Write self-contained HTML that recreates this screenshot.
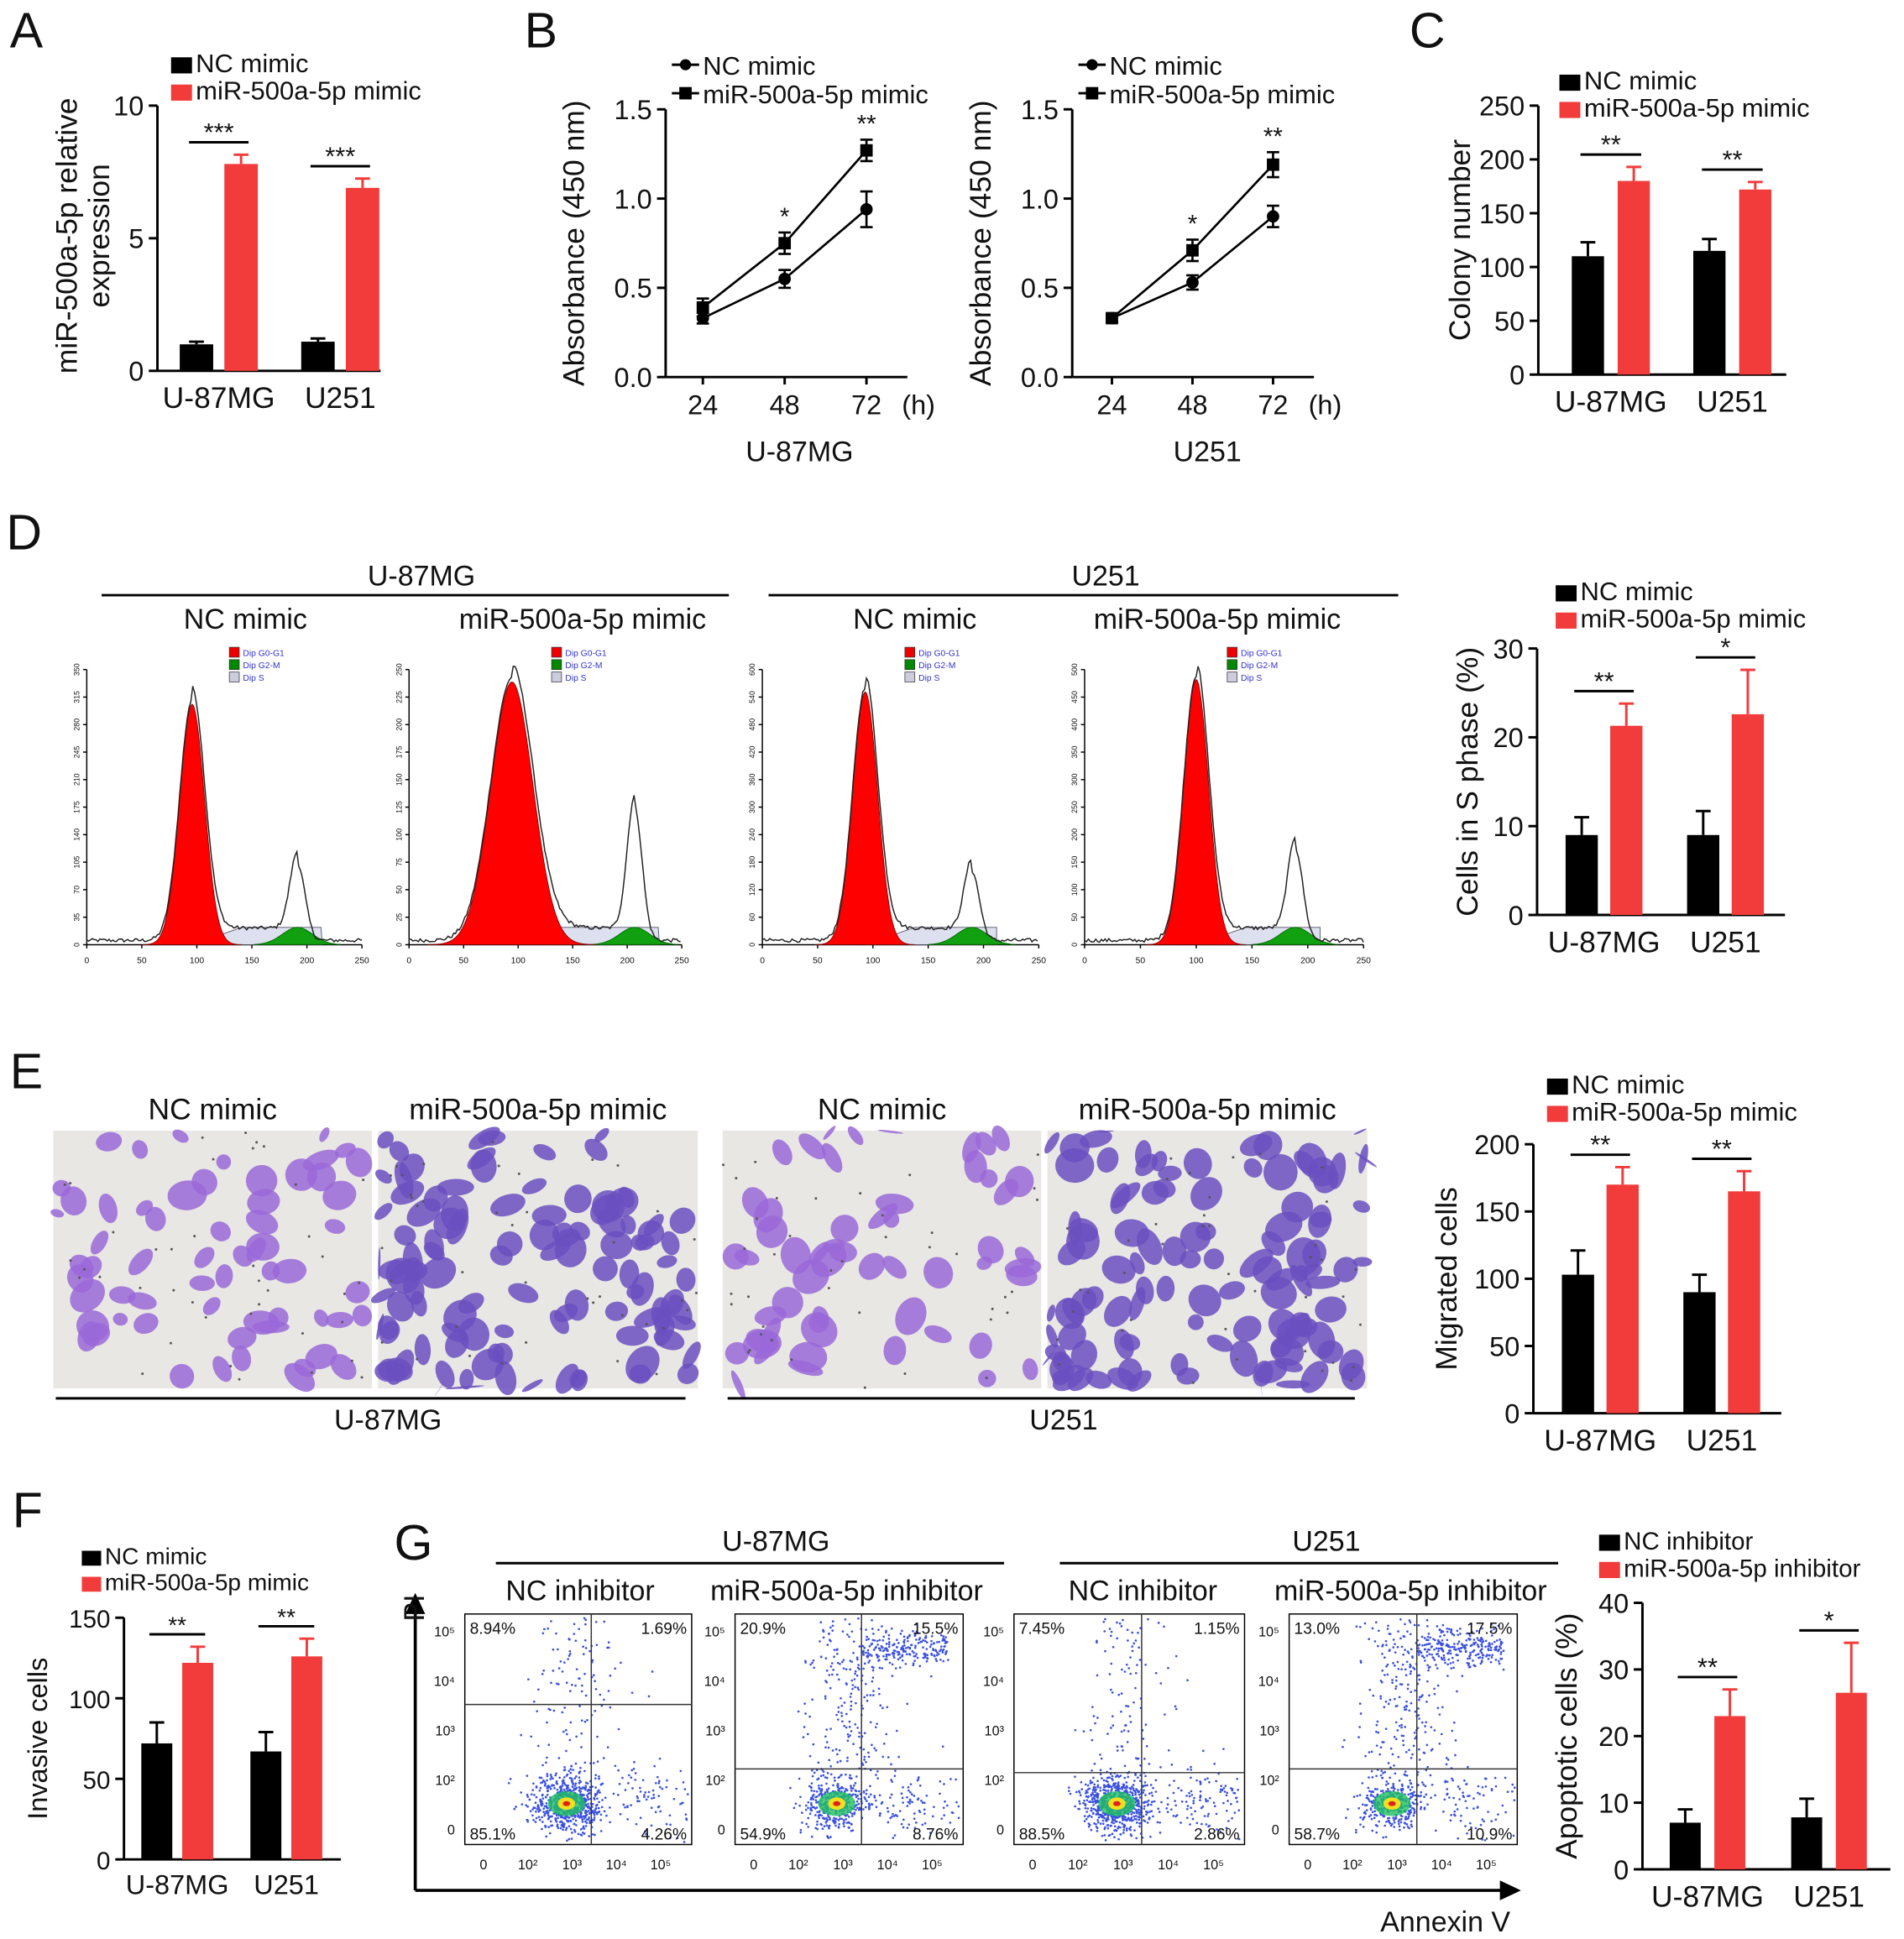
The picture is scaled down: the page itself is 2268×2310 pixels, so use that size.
<!DOCTYPE html>
<html><head><meta charset="utf-8">
<style>
html,body{margin:0;padding:0;background:#fff;}
svg{display:block;font-family:"Liberation Sans",Arial,sans-serif;}
</style></head>
<body>
<svg id="fig" width="2268" height="2310" viewBox="0 0 1536 1564" xmlns="http://www.w3.org/2000/svg"></svg>
<script>
// ---------- Data ----------
// Panel A
const aCats=["U-87MG","U251"];
const aNC=[1.0,1.1]; const aNCerr=[0.1,0.12];
const aMi=[7.8,6.9]; const aMiErr=[0.35,0.35];
const aSig=["***","***"]; const aTicks=[0,5,10];
// Panel B
const bHours=[24,48,72];
const bU87NC=[0.33,0.55,0.94]; const bU87NCerr=[0.03,0.05,0.1];
const bU87Mi=[0.39,0.75,1.27]; const bU87MiErr=[0.05,0.06,0.06];
const bU251NC=[0.33,0.53,0.90]; const bU251NCerr=[0.02,0.04,0.06];
const bU251Mi=[0.33,0.71,1.19]; const bU251MiErr=[0.02,0.06,0.07];
const bSig=["","*","**"]; const bTicks=[0,0.5,1.0,1.5];
// Panel C
const cCats=["U-87MG","U251"];
const cNC=[110,115]; const cNCerr=[13,11];
const cMi=[180,172]; const cMiErr=[13,7];
const cSig=["**","**"]; const cTicks=[0,50,100,150,200,250];
// Panel D bars
const dCats=["U-87MG","U251"];
const dNC=[9,9]; const dNCerr=[2,2.7];
const dMi=[21.3,22.6]; const dMiErr=[2.5,5];
const dSig=["**","*"]; const dTicks=[0,10,20,30];
// Panel E bars
const eCats=["U-87MG","U251"];
const eNC=[103,90]; const eNCerr=[18,13];
const eMi=[170,165]; const eMiErr=[13,15];
const eSig=["**","**"]; const eTicks=[0,50,100,150,200];
// Panel F
const fCats=["U-87MG","U251"];
const fNC=[72,67]; const fNCerr=[13,12];
const fMi=[122,126]; const fMiErr=[10,11];
const fSig=["**","**"]; const fTicks=[0,50,100,150];
// Panel G bars
const gCats=["U-87MG","U251"];
const gNC=[7,7.8]; const gNCerr=[2,2.8];
const gMi=[23,26.5]; const gMiErr=[4,7.5];
const gSig=["**","*"]; const gTicks=[0,10,20,30,40];
// Panel G quadrant labels
const gQuad=[["8.94%","1.69%","85.1%","4.26%"],["20.9%","15.5%","54.9%","8.76%"],["7.45%","1.15%","88.5%","2.86%"],["13.0%","17.5%","58.7%","10.9%"]];

const NS="http://www.w3.org/2000/svg";
const svg=document.getElementById('fig');
function el(tag,attrs,parent,text){const e=document.createElementNS(NS,tag);for(const k in attrs)e.setAttribute(k,attrs[k]);if(text!==undefined)e.textContent=text;(parent||svg).appendChild(e);return e;}
function txt(x,y,s,size,anchor,parent,extra){const t=el('text',Object.assign({x:x,y:y,'font-size':size,'text-anchor':anchor||'start',fill:'#111'},extra||{}),parent,s);return t;}
const RED="#f23b3b";

// seeded random for textures
let seed=12345;function rnd(){seed=(seed*1103515245+12345)%2147483648;return seed/2147483648;}
function gauss(){return Math.sqrt(-2*Math.log(rnd()+1e-9))*Math.cos(2*Math.PI*rnd());}

// panel letters
[["A",8,38],["B",423,38],["C",1137,38],["D",5,443],["E",8,878],["F",10,1232],["G",318,1258]].forEach(p=>{
 const t=txt(p[1],p[2],p[0],40,'start');
 
 
});

function legend(x,y,labels,size,gapY,sq){
 const g=el('g',{});
 
 
 labels.forEach((l,i)=>{
  const r=el('rect',{x:x,y:y+i*gapY-sq+3,width:sq*1.3,height:sq,fill:i?RED:'#000'},g);
  
  
  const t=txt(x+sq*1.3+3,y+i*gapY+2,l,size,'start',g);
  
  
 });
}

function barChart(o){
 const g=el('g',{});
 
 
 const y=v=>o.y0-v/o.max*(o.y0-o.y1);
 el('line',{x1:o.ax,y1:o.y0,x2:o.ax,y2:o.y1,stroke:'#000','stroke-width':2},g);
 el('line',{x1:o.ax,y1:o.y0,x2:o.ax+o.w,y2:o.y0,stroke:'#000','stroke-width':2},g);
 o.ticks.forEach(t=>{
  el('line',{x1:o.ax-7,y1:y(t),x2:o.ax,y2:y(t),stroke:'#000','stroke-width':2},g);
  const tl=txt(o.ax-11,y(t)+8,String(t),o.fs,'end',g);
  
  
 });
 const yl=txt(0,0,o.ylabel,o.lfs,'middle',g,{transform:`translate(${o.ylx},${(o.y0+o.y1)/2}) rotate(-90)`});
 
 
 o.cats.forEach((c,i)=>{
  const gx=o.ax+o.off+i*o.gap;
  const bars=[[o.nc[i],o.ncErr[i],'#000',gx],[o.mi[i],o.miErr[i],RED,gx+o.bw+o.inner]];
  bars.forEach((b,j)=>{
   const cx=b[3]+o.bw/2;
   el('line',{x1:cx,y1:y(b[0]),x2:cx,y2:y(b[0]+b[1]),stroke:b[2],'stroke-width':2},g);
   el('line',{x1:cx-6,y1:y(b[0]+b[1]),x2:cx+6,y2:y(b[0]+b[1]),stroke:b[2],'stroke-width':2},g);
   const r=el('rect',{x:b[3],y:y(b[0]),width:o.bw,height:o.y0-y(b[0]),fill:b[2]},g);
   
   
  });
  const top=y(o.mi[i]+o.miErr[i])-10;
  const x1=gx+o.bw/2-6,x2=gx+o.bw*1.5+o.inner+6;
  el('line',{x1:x1,y1:top,x2:x2,y2:top,stroke:'#000','stroke-width':2},g);
  const st=txt((x1+x2)/2,top-1,o.sig[i],o.fs*0.95,'middle',g);
  
  
  const cl=txt(gx+o.bw+o.inner/2,o.y0+o.fs+8,c,o.cfs||o.lfs,'middle',g);
  
  
 });
}

barChart({name:'chart-a',ax:127,y0:299,y1:85,max:10,ticks:aTicks,cats:aCats,nc:aNC,ncErr:aNCerr,mi:aMi,miErr:aMiErr,sig:aSig,off:18,bw:27,inner:9,gap:98,w:180,fs:22,lfs:24,ylabel:'',ylx:60});
txt(0,0,'miR-500a-5p relative',24,'middle',svg,{transform:'translate(62,190) rotate(-90)'});
txt(0,0,'expression',24,'middle',svg,{transform:'translate(88,190) rotate(-90)'});
legend(138,56,['NC mimic','miR-500a-5p mimic'],21,22,13);

barChart({name:'chart-c',ax:1241,y0:302,y1:85,max:250,ticks:cTicks,cats:cCats,nc:cNC,ncErr:cNCerr,mi:cMi,miErr:cMiErr,sig:cSig,off:27,bw:26,inner:11,gap:98,w:200,fs:22,lfs:24,ylabel:'Colony number',ylx:1186});
legend(1258,70,['NC mimic','miR-500a-5p mimic'],21,22,13);

barChart({name:'chart-d-bars',ax:1240,y0:738,y1:523,max:30,ticks:dTicks,cats:dCats,nc:dNC,ncErr:dNCerr,mi:dMi,miErr:dMiErr,sig:dSig,off:23,bw:26,inner:10,gap:98,w:200,fs:22,lfs:24,ylabel:'Cells in S phase (%)',ylx:1192});
legend(1255,482,['NC mimic','miR-500a-5p mimic'],21,22,13);

barChart({name:'chart-e-bars',ax:1237,y0:1140,y1:923,max:200,ticks:eTicks,cats:eCats,nc:eNC,ncErr:eNCerr,mi:eMi,miErr:eMiErr,sig:eSig,off:23,bw:26,inner:10,gap:98,w:200,fs:22,lfs:24,ylabel:'Migrated cells',ylx:1175});
legend(1248,880,['NC mimic','miR-500a-5p mimic'],21,22,13);

barChart({name:'chart-f',ax:100,y0:1500,y1:1305,max:150,ticks:fTicks,cats:fCats,nc:fNC,ncErr:fNCerr,mi:fMi,miErr:fMiErr,sig:fSig,off:14,bw:25,inner:8,gap:88,w:175,fs:20,lfs:22,ylabel:'Invasive cells',ylx:38});
legend(66,1260,['NC mimic','miR-500a-5p mimic'],19,21,12);

barChart({name:'chart-g-bars',ax:1325,y0:1508,y1:1293,max:40,ticks:gTicks,cats:gCats,nc:gNC,ncErr:gNCerr,mi:gMi,miErr:gMiErr,sig:gSig,off:22,bw:25,inner:11,gap:98,w:200,fs:22,lfs:24,ylabel:'Apoptotic cells (%)',ylx:1272});
legend(1290,1248,['NC inhibitor','miR-500a-5p inhibitor'],20,22,13);

// ---------- Panel B line charts ----------
function lineChart(o){
 const g=el('g',{});
 
 
 const y=v=>o.y0-v/1.5*(o.y0-o.y1);
 const x=i=>o.x24+i*o.dx;
 el('line',{x1:o.ax,y1:o.y0,x2:o.ax,y2:o.y1,stroke:'#000','stroke-width':2},g);
 el('line',{x1:o.ax,y1:o.y0,x2:o.ax+195,y2:o.y0,stroke:'#000','stroke-width':2},g);
 bTicks.forEach(t=>{
  el('line',{x1:o.ax-7,y1:y(t),x2:o.ax,y2:y(t),stroke:'#000','stroke-width':2},g);
  txt(o.ax-11,y(t)+8,t.toFixed(1),22,'end',g);
 });
 bHours.forEach((h,i)=>{
  el('line',{x1:x(i),y1:o.y0,x2:x(i),y2:o.y0+6,stroke:'#000','stroke-width':2},g);
  txt(x(i),o.y0+30,String(h),22,'middle',g);
 });
 txt(o.x24+2*o.dx+42,o.y0+30,'(h)',22,'middle',g);
 txt(o.x24+o.dx+12,o.y0+68,o.cell,23,'middle',g);
 txt(0,0,'Absorbance (450 nm)',24,'middle',g,{transform:`translate(${o.ax-66},${(o.y0+o.y1)/2}) rotate(-90)`});
 [[o.nc,o.ncE,'c'],[o.mi,o.miE,'s']].forEach(s=>{
  const pts=s[0].map((v,i)=>x(i)+','+y(v)).join(' ');
  const pl=el('polyline',{points:pts,fill:'none',stroke:'#000','stroke-width':1.8},g);
  
  
  s[0].forEach((v,i)=>{
   el('line',{x1:x(i),y1:y(v-s[1][i]),x2:x(i),y2:y(v+s[1][i]),stroke:'#000','stroke-width':1.8},g);
   el('line',{x1:x(i)-5,y1:y(v+s[1][i]),x2:x(i)+5,y2:y(v+s[1][i]),stroke:'#000','stroke-width':1.8},g);
   el('line',{x1:x(i)-5,y1:y(v-s[1][i]),x2:x(i)+5,y2:y(v-s[1][i]),stroke:'#000','stroke-width':1.8},g);
   const m=s[2]==='c'?el('circle',{cx:x(i),cy:y(v),r:5,fill:'#000'},g):el('rect',{x:x(i)-5,y:y(v)-5,width:10,height:10,fill:'#000'},g);
   
   
  });
 });
 o.mi.forEach((v,i)=>{if(bSig[i])txt(x(i),y(v+o.miE[i])-6,bSig[i],20,'middle',g);});
 // legend
 el('line',{x1:o.ax+5,y1:52,x2:o.ax+27,y2:52,stroke:'#000','stroke-width':2},g);
 el('circle',{cx:o.ax+16,cy:52,r:4.5,fill:'#000'},g);
 txt(o.ax+30,60,'NC mimic',21,'start',g);
 el('line',{x1:o.ax+5,y1:75,x2:o.ax+27,y2:75,stroke:'#000','stroke-width':2},g);
 el('rect',{x:o.ax+11,y:70,width:10,height:10,fill:'#000'},g);
 txt(o.ax+30,83,'miR-500a-5p mimic',21,'start',g);
}
lineChart({name:'chart-b-u87mg',ax:537,y0:304,y1:88,x24:567,dx:66,nc:bU87NC,ncE:bU87NCerr,mi:bU87Mi,miE:bU87MiErr,cell:'U-87MG'});
lineChart({name:'chart-b-u251',ax:865,y0:304,y1:88,x24:897,dx:65,nc:bU251NC,ncE:bU251NCerr,mi:bU251Mi,miE:bU251MiErr,cell:'U251'});

// ---------- Panel D histograms ----------
const dHeaders=[[82,588,'U-87MG',340],[620,1128,'U251',892]];
dHeaders.forEach(h=>{el('line',{x1:h[0],y1:480,x2:h[1],y2:480,stroke:'#000','stroke-width':2});txt(h[3],472,h[2],23,'middle');});
[[198,'NC mimic'],[470,'miR-500a-5p mimic'],[738,'NC mimic'],[982,'miR-500a-5p mimic']].forEach(t=>txt(t[0],507,t[1],23,'middle'));
const hists=[{x0:70,x1:292,pk:155,ph:568,sd:10,g2:240,g2h:700},{x0:330,x1:550,pk:413,ph:550,sd:17,g2:512,g2h:655},{x0:615,x1:838,pk:698,ph:558,sd:10,g2:784,g2h:706},{x0:875,x1:1100,pk:965,ph:548,sd:10,g2:1045,g2h:688}];
hists.forEach((h,k)=>{
 const g=el('g',{});
 
 
 const base=762;
 el('line',{x1:h.x0,y1:base,x2:h.x1,y2:base,stroke:'#000','stroke-width':1},g);
 el('line',{x1:h.x0,y1:540,x2:h.x0,y2:base,stroke:'#000','stroke-width':1},g);
 for(let i=0;i<=10;i++){const yy=base-i*(222/10);el('line',{x1:h.x0-3,y1:yy,x2:h.x0,y2:yy,stroke:'#000'},g);txt(h.x0-6,yy,String(i*(k===2?60:k===3?50:k===0?35:25)),6,'middle',g,{transform:`rotate(-90 ${h.x0-6} ${yy})`});}
 for(let i=0;i<=5;i++){const xx=h.x0+i*(h.x1-h.x0)/5;el('line',{x1:xx,y1:base,x2:xx,y2:base+3,stroke:'#000'},g);txt(xx,base+15,String(i*50),7,'middle',g);}
 let red='M'+(h.pk-4*h.sd)+','+base,white='M'+h.x0+','+(base-2),hatch='M'+(h.pk)+','+base,green='M'+(h.g2-35)+','+base;
 for(let x=h.pk-4*h.sd;x<=h.pk+4*h.sd;x+=1){red+=' L'+x+','+(base-(base-h.ph)*Math.exp(-((x-h.pk)**2)/(2*h.sd*h.sd)));}
 red+=' Z';
 for(let x=h.pk;x<=h.g2+20;x+=2){hatch+=' L'+x+','+(base-14*Math.min(1,(x-h.pk)/40));}
 hatch+=' L'+(h.g2+20)+','+base+' Z';
 for(let x=h.g2-35;x<=h.g2+35;x+=2){green+=' L'+x+','+(base-14*Math.exp(-((x-h.g2)**2)/300));}
 green+=' Z';
 for(let x=h.x0;x<=h.x1;x+=1.5){
  const v=(base-h.ph)*Math.exp(-((x-h.pk)**2)/(2*h.sd*h.sd))+(base-h.g2h)*Math.exp(-((x-h.g2)**2)/(2*6*6))+10*(x>h.pk&&x<h.g2?1:0)+(rnd()*3);
  white+=' L'+x+','+(base-2-v);
 }
 el('path',{d:hatch,fill:'#dde0ee',stroke:'#556','stroke-width':0.6},g);
 el('path',{d:green,fill:'#10a010',stroke:'#060','stroke-width':0.6},g);
 el('path',{d:red,fill:'#ff0000',stroke:'#800','stroke-width':0.6},g);
 el('path',{d:white,fill:'none',stroke:'#222','stroke-width':1},g);
 const lx=h.x0+115;
 [['#e00','Dip G0-G1'],['#080','Dip G2-M'],['#ccd','Dip S']].forEach((c,i)=>{el('rect',{x:lx,y:522+i*10,width:8,height:8,fill:c[0],stroke:'#333','stroke-width':0.5},g);txt(lx+11,529+i*10,c[1],7,'start',g,{fill:'#33c'});});
});

// ---------- Panel E images ----------
[[43,300,'NC mimic',0.55],[305,563,'miR-500a-5p mimic',1],[583,840,'NC mimic',0.5],[845,1103,'miR-500a-5p mimic',1]].forEach((im,k)=>{
 const g=el('g',{});
 
 
 el('rect',{x:im[0],y:912,width:im[1]-im[0],height:208,fill:'#e8e7e4'},g);
 const n=Math.round(110*im[3]);
 for(let i=0;i<n;i++){
  const cx=im[0]+rnd()*(im[1]-im[0]),cy=912+rnd()*208,rx=6+rnd()*10,ry=5+rnd()*9;
  el('ellipse',{cx:cx,cy:cy,rx:Math.min(rx,im[1]-cx,cx-im[0]),ry:Math.min(ry,1120-cy,cy-912),fill:im[3]>0.9?'#6a4fc0':'#9a68d8','fill-opacity':0.85,transform:`rotate(${rnd()*180} ${cx} ${cy})`},g);
 }
 for(let i=0;i<40;i++){el('circle',{cx:im[0]+rnd()*(im[1]-im[0]),cy:912+rnd()*208,r:1,fill:'#555'},g);}
 txt((im[0]+im[1])/2,903,im[2],24,'middle');
});
el('line',{x1:45,y1:1128,x2:553,y2:1128,stroke:'#000','stroke-width':2});txt(313,1153,'U-87MG',23,'middle');
el('line',{x1:587,y1:1128,x2:1093,y2:1128,stroke:'#000','stroke-width':2});txt(858,1153,'U251',23,'middle');

// ---------- Panel G flow plots ----------
el('line',{x1:400,y1:1261,x2:810,y2:1261,stroke:'#000','stroke-width':2});txt(626,1251,'U-87MG',23,'middle');
el('line',{x1:855,y1:1261,x2:1257,y2:1261,stroke:'#000','stroke-width':2});txt(1070,1251,'U251',23,'middle');
[[468,'NC inhibitor'],[683,'miR-500a-5p inhibitor'],[922,'NC inhibitor'],[1138,'miR-500a-5p inhibitor']].forEach(t=>txt(t[0],1291,t[1],23,'middle'));
const fp=[{x0:375,x1:558,qx:477,qy:1375,p:0.12},{x0:593,x1:777,qx:695,qy:1427,p:0.45},{x0:818,x1:1004,qx:921,qy:1430,p:0.1},{x0:1040,x1:1224,qx:1143,qy:1427,p:0.5}];
fp.forEach((f,k)=>{
 const g=el('g',{});
 
 
 const y0=1302,y1=1488;
 el('rect',{x:f.x0,y:y0,width:f.x1-f.x0,height:y1-y0,fill:'#fff',stroke:'#000','stroke-width':1},g);
 const ccx=f.qx-20,ccy=1455;
 for(let i=0;i<900;i++){
  let x,y;const r=rnd();
  if(r<f.p){x=f.qx-12+gauss()*18;y=ccy-20-rnd()*130;if(k%2&&rnd()<0.5){x=f.qx+rnd()*70;y=1330+gauss()*8;}}
  else if(r<f.p+0.1){x=ccx+40+rnd()*60;y=ccy+gauss()*15;}
  else {x=ccx+gauss()*14;y=ccy+gauss()*11;}
  if(x<f.x0+2||x>f.x1-2||y<y0+2||y>y1-2)continue;
  el('circle',{cx:x,cy:y,r:0.9,fill:'#3a50e0'},g);
 }
 el('ellipse',{cx:ccx,cy:ccy,rx:15,ry:10,fill:'#20c060','fill-opacity':0.8},g);
 el('ellipse',{cx:ccx,cy:ccy,rx:7,ry:5,fill:'#f0e020'},g);
 el('ellipse',{cx:ccx,cy:ccy,rx:3,ry:2,fill:'#e02020'},g);
 el('line',{x1:f.qx,y1:y0,x2:f.qx,y2:y1,stroke:'#333','stroke-width':1},g);
 el('line',{x1:f.x0,y1:f.qy,x2:f.x1,y2:f.qy,stroke:'#333','stroke-width':1},g);
 const q=gQuad[k];
 txt(f.x0+4,y0+16,q[0],13,'start',g);txt(f.x1-4,y0+16,q[1],13,'end',g);
 txt(f.x0+4,y1-4,q[2],13,'start',g);txt(f.x1-4,y1-4,q[3],13,'end',g);
 ['0','10²','10³','10⁴','10⁵'].forEach((t,i)=>txt(f.x0+15+i*((f.x1-f.x0-40)/4),y1+20,t,11,'middle',g));
 ['10⁵','10⁴','10³','10²','0'].forEach((t,i)=>txt(f.x0-8,y0+18+i*40,t,11,'end',g));
});
el('line',{x1:335,y1:1525,x2:335,y2:1300,stroke:'#000','stroke-width':2.5});
el('path',{d:'M327,1302 L335,1285 L343,1302 Z',fill:'#000'});
el('line',{x1:335,y1:1525,x2:1212,y2:1525,stroke:'#000','stroke-width':2.5});
el('path',{d:'M1210,1517 L1227,1525 L1210,1533 Z',fill:'#000'});
txt(0,0,'PI',23,'middle',svg,{transform:'translate(342,1297) rotate(-90)'});
txt(1166,1558,'Annexin V',23,'middle');
</script>
</body></html>
